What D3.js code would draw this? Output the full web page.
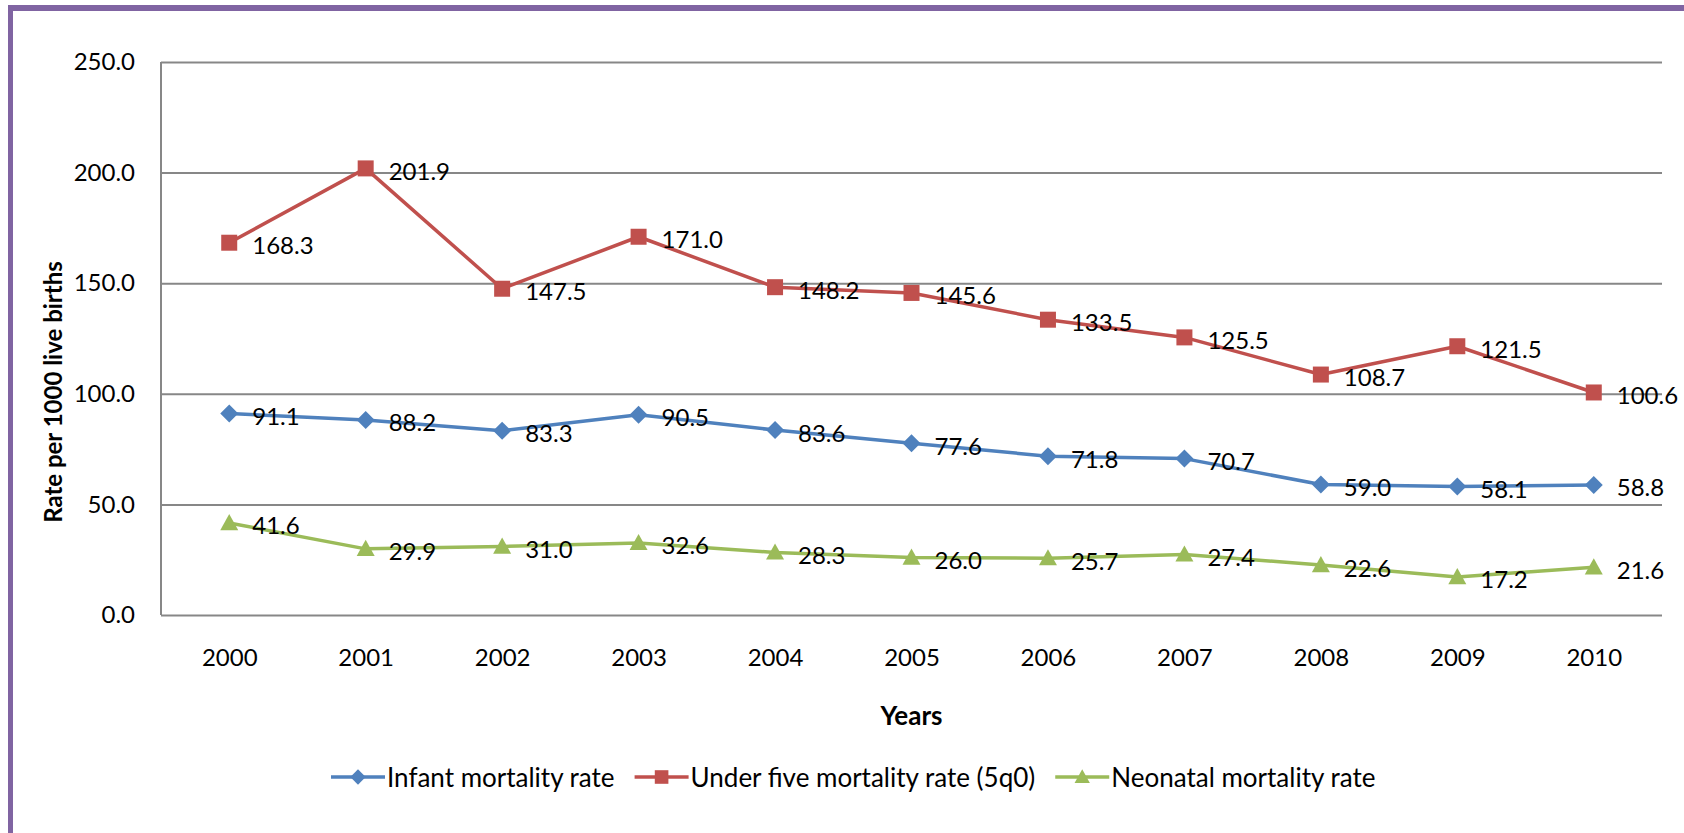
<!DOCTYPE html>
<html>
<head>
<meta charset="utf-8">
<script src="https://cdn.jsdelivr.net/npm/d3@7"></script>
<style>
  body { margin: 0; background: #fff; }
  text { font-family: Lato, "Open Sans", sans-serif; fill: #000; }
</style>
</head>
<body>
<div id="chart"></div>
<script>
const years = ["2000", "2001", "2002", "2003", "2004", "2005", "2006", "2007", "2008", "2009", "2010"];
const infant = [91.1, 88.2, 83.3, 90.5, 83.6, 77.6, 71.8, 70.7, 59.0, 58.1, 58.8];
const underFive = [168.3, 201.9, 147.5, 171.0, 148.2, 145.6, 133.5, 125.5, 108.7, 121.5, 100.6];
const neonatal = [41.6, 29.9, 31.0, 32.6, 28.3, 26.0, 25.7, 27.4, 22.6, 17.2, 21.6];
const yTicks = [0, 50, 100, 150, 200, 250];
const seriesNames = ["Infant mortality rate", "Under five mortality rate (5q0)", "Neonatal mortality rate"];

const width = 1684, height = 833;
const margin = { top: 62, right: 22, bottom: 218, left: 161 };

const svg = d3.select("#chart").append("svg")
  .attr("width", width)
  .attr("height", height);

// purple frame (top and left only)
svg.append("rect").attr("x", 8).attr("y", 5).attr("width", width - 8).attr("height", 6).attr("fill", "#8064A2");
svg.append("rect").attr("x", 8).attr("y", 5).attr("width", 5).attr("height", height - 5).attr("fill", "#8064A2");

const xScale = d3.scalePoint()
  .domain(years)
  .range([margin.left, width - margin.right])
  .padding(0.5);

const yScale = d3.scaleLinear()
  .domain([0, 250])
  .range([height - margin.bottom, margin.top]);

// grid
svg.append("g")
  .attr("transform", `translate(${margin.left},0)`)
  .call(d3.axisLeft(yScale).tickValues(yTicks).tickSize(-(width - margin.left - margin.right)).tickFormat(""))
  .call((g) => g.select(".domain").remove())
  .call((g) => g.selectAll("line").attr("stroke", "#878787").attr("stroke-width", 2));

// y axis line
svg.append("line")
  .attr("x1", margin.left).attr("x2", margin.left)
  .attr("y1", yScale(250)).attr("y2", yScale(0))
  .attr("stroke", "#878787").attr("stroke-width", 2);

// y tick labels
svg.append("g")
  .attr("transform", `translate(${margin.left},0)`)
  .call(d3.axisLeft(yScale).tickValues(yTicks).tickSize(0).tickPadding(26).tickFormat(d3.format(".1f")))
  .call((g) => g.select(".domain").remove())
  .call((g) => g.selectAll("text").style("font-family", "Lato, sans-serif").style("font-size", "24px").attr("fill", "#000"));

// x tick labels
svg.append("g")
  .attr("transform", `translate(0,${yScale(0)})`)
  .call(d3.axisBottom(xScale).tickSize(0).tickPadding(34))
  .call((g) => g.select(".domain").remove())
  .call((g) => g.selectAll("text").style("font-family", "Lato, sans-serif").style("font-size", "24px").attr("fill", "#000"));

// axis titles
svg.append("text")
  .attr("x", (margin.left + width - margin.right) / 2)
  .attr("y", 715)
  .attr("text-anchor", "middle")
  .attr("dominant-baseline", "central")
  .style("font-size", "26px")
  .style("font-weight", "bold")
  .text("Years");

svg.append("text")
  .attr("transform", "translate(52,392) rotate(-90)")
  .attr("text-anchor", "middle")
  .attr("dominant-baseline", "central")
  .style("font-size", "24px")
  .style("font-weight", "bold")
  .text("Rate per 1000 live births");

// marker shapes
const markers = {
  diamond: (s) => `M0,${-s}L${s},0L0,${s}L${-s},0Z`,
  square: (s) => `M${-s},${-s}H${s}V${s}H${-s}Z`,
  triangle: (s) => `M0,${-s}L${s},${s * 0.8}L${-s},${s * 0.8}Z`
};

const series = [
  { name: seriesNames[0], values: infant, color: "#4F81BD", marker: "diamond", size: 9 },
  { name: seriesNames[1], values: underFive, color: "#C0504D", marker: "square", size: 8 },
  { name: seriesNames[2], values: neonatal, color: "#9BBB59", marker: "triangle", size: 9 }
];

const line = d3.line()
  .x((d, i) => xScale(years[i]))
  .y((d) => yScale(d));

series.forEach((s) => {
  svg.append("path")
    .datum(s.values)
    .attr("fill", "none")
    .attr("stroke", s.color)
    .attr("stroke-width", 3.5)
    .attr("stroke-linejoin", "round")
    .attr("d", line);

  svg.append("g")
    .selectAll("path")
    .data(s.values)
    .enter()
    .append("path")
    .attr("transform", (d, i) => `translate(${xScale(years[i])},${yScale(d)})`)
    .attr("d", markers[s.marker](s.size))
    .attr("fill", s.color);
});

// data labels, placed to the right of each point
series.forEach((s) => {
  svg.append("g")
    .selectAll("text")
    .data(s.values)
    .enter()
    .append("text")
    .attr("x", (d, i) => xScale(years[i]) + 23)
    .attr("y", (d) => yScale(d) + 2)
    .attr("dominant-baseline", "central")
    .style("font-size", "24px")
    .text((d) => d3.format(".1f")(d));
});

// legend
const legend = svg.append("g").attr("transform", "translate(331,777)");
let lx = 0;
series.forEach((s) => {
  const item = legend.append("g").attr("transform", `translate(${lx},0)`);
  item.append("line")
    .attr("x1", 0).attr("x2", 54)
    .attr("stroke", s.color).attr("stroke-width", 3.5);
  item.append("path")
    .attr("transform", "translate(27,0)")
    .attr("d", markers[s.marker](s.size * 0.85))
    .attr("fill", s.color);
  const t = item.append("text")
    .attr("x", 56)
    .attr("dominant-baseline", "central")
    .style("font-size", "26px")
    .text(s.name);
  lx += 56 + t.node().getComputedTextLength() + 20;
});
</script>
</body>
</html>
